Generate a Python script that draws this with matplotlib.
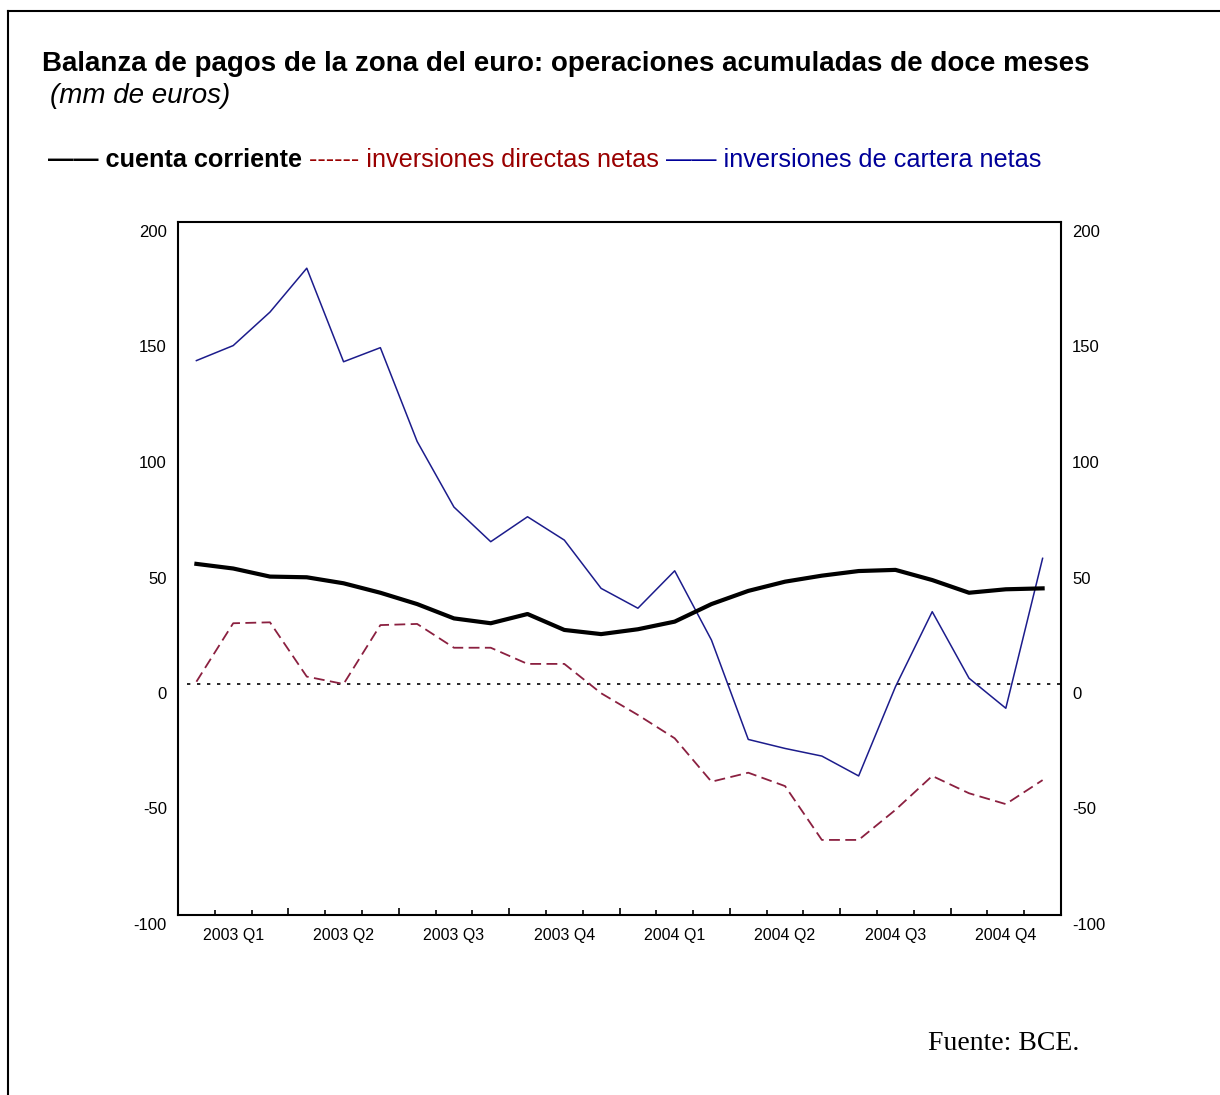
import matplotlib
matplotlib.use("Agg")
import matplotlib.pyplot as plt
import matplotlib.transforms as mtransforms
from matplotlib.lines import Line2D

plt.rcParams['font.family'] = ['Liberation Sans', 'DejaVu Sans']

# monthly data, Jan 2003 - Dec 2004 (mm de euros)
cuenta_corriente = [52, 50, 46.5, 46.2, 43.6, 39.5, 34.6, 28.4, 26.3, 30.3, 23.4, 21.6,
                    23.7, 27, 34.6, 40.3, 44.3, 46.9, 48.9, 49.4, 45, 39.5, 41, 41.4]
directas = [1, 26.3, 26.7, 3.2, 0, 25.5, 26, 15.7, 15.7, 8.7, 8.7, -4,
            -13.4, -23.5, -42.3, -38.4, -44.2, -67.5, -67.5, -54.5, -39.8, -47.3, -52, -41.6]
cartera = [140, 146.5, 161, 180, 139.5, 145.6, 105, 76.6, 61.6, 72.4, 62.3, 41.4,
           32.8, 49, 19, -24, -27.9, -31.2, -39.8, -1.2, 31.3, 2.5, -10.5, 54.4]
quarters = ['2003 Q1', '2003 Q2', '2003 Q3', '2003 Q4',
            '2004 Q1', '2004 Q2', '2004 Q3', '2004 Q4']
yticks = [-100, -50, 0, 50, 100, 150, 200]

red = '#8b2040'
blue = '#1c1c8c'

fig = plt.figure(figsize=(12.2, 10.95), dpi=100)
ax = fig.add_axes([178 / 1220, 1 - 915 / 1095, 883 / 1220, 693 / 1095])

x = [i + 0.5 for i in range(len(cartera))]
ax.axhline(0, color='black', lw=1.2, linestyle=(0, (2, 4)), xmin=0.01, zorder=1)
ax.plot(x, directas, color=red, lw=1.3, linestyle=(0, (6, 3)), zorder=2)
ax.plot(x, cartera, color=blue, lw=1.1, zorder=3)
ax.plot(x, cuenta_corriente, color='black', lw=3, zorder=4)

ax.set_xlim(0, 24)
ax.set_ylim(-100, 200)
for s in ax.spines.values():
    s.set_linewidth(1.5)

# y labels on both sides, no tick marks
ax.set_yticks(yticks)
ax.set_yticklabels([str(v) for v in yticks])
ax.tick_params(axis='y', which='both', length=0, labelsize=12, left=False, right=False,
               labelleft=True, labelright=True, pad=8)
off = mtransforms.ScaledTranslation(0, -9 / 100, fig.dpi_scale_trans)
for t in ax.yaxis.get_major_ticks():
    t.label1.set_transform(t.label1.get_transform() + off)
    t.label2.set_transform(t.label2.get_transform() + off)

# x: inward ticks at month boundaries, labels at quarter centres
ax.set_xticks(range(0, 25, 3))
ax.set_xticks([m for m in range(1, 24) if m % 3 != 0], minor=True)
ax.tick_params(axis='x', which='major', direction='in', length=5, width=1.2, labelbottom=False)
ax.tick_params(axis='x', which='minor', direction='in', length=3.5, width=1.2)
for i, q in enumerate(quarters):
    ax.text(3 * i + 1.5, -105.5, q, ha='center', va='top', fontsize=11.5)

# outer frame
fig.add_artist(Line2D([8 / 1220, 8 / 1220], [0, 1 - 11 / 1095], transform=fig.transFigure,
                      color='black', lw=1.5))
fig.add_artist(Line2D([8 / 1220, 1], [1 - 11 / 1095, 1 - 11 / 1095], transform=fig.transFigure,
                      color='black', lw=1.5))

fig.text(42 / 1220, 1 - 64 / 1095,
         'Balanza de pagos de la zona del euro: operaciones acumuladas de doce meses',
         fontsize=20, fontweight='bold', va='center')
fig.text(50 / 1220, 1 - 96 / 1095, '(mm de euros)', fontsize=20, style='italic', va='center')

# legend written as a line of text
t1 = fig.text(48 / 1220, 1 - 160 / 1095, '\u2014\u2014 cuenta corriente', fontsize=18.2,
              fontweight='bold', va='center')
t2 = fig.text(0, 0, ' ------ inversiones directas netas', fontsize=18.2, color='#990000',
              va='center')
t3 = fig.text(0, 0, ' \u2014\u2014 inversiones de cartera netas', fontsize=18.2, color='#000099',
              va='center')
fig.canvas.draw()
r = fig.canvas.get_renderer()
bb1 = t1.get_window_extent(r)
t2.set_position((bb1.x1 / fig.bbox.width, 1 - 160 / 1095))
bb2 = t2.get_window_extent(r)
t3.set_position((bb2.x1 / fig.bbox.width, 1 - 160 / 1095))

fig.text(928 / 1220, 1 - 1043 / 1095, 'Fuente: BCE.', fontsize=20, family='Liberation Serif',
         va='center')

fig.savefig('out.png', dpi=100)
